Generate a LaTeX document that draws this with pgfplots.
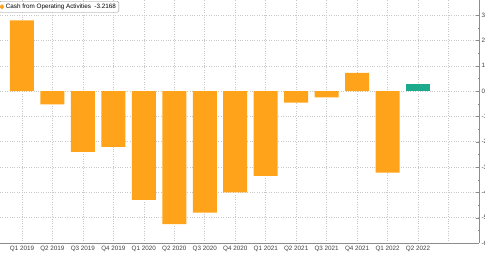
\documentclass[border=0pt]{standalone}
\usepackage{fontspec}
\setmainfont{Liberation Sans}
\usepackage{pgfplots}
\pgfplotsset{compat=1.18}
\definecolor{barorange}{HTML}{FFA31A}
\definecolor{bargreen}{HTML}{1BAA8C}
\definecolor{gridgray}{HTML}{C8C8C8}
\definecolor{axgray}{HTML}{8C8C8C}
\begin{document}
\begin{tikzpicture}
\begin{axis}[
  scale only axis,
  width=479pt, height=243pt,
  xmin=-0.72, xmax=15,
  ymin=-6, ymax=3.6,
  axis x line*=bottom,
  axis y line*=right,
  axis line style={axgray},
  xtick={0,...,14},
  xticklabels={Q1 2019,Q2 2019,Q3 2019,Q4 2019,Q1 2020,Q2 2020,Q3 2020,Q4 2020,Q1 2021,Q2 2021,Q3 2021,Q4 2021,Q1 2022,Q2 2022,},
  ytick={-6,...,3},
  minor y tick num=1,
  major tick length=3pt, minor tick length=1.5pt,
  x tick style={draw=none},
  y tick style={axgray},
  tick label style={font=\fontsize{6.3}{7}\selectfont, text=black!75},
  /pgf/number format/assume math mode=true,
  xticklabel style={yshift=3pt},
  yticklabel style={xshift=-1pt},
  grid=major,
  major grid style={gridgray, dotted, line width=0.6pt},
  ybar, bar width=24pt,
  legend style={at={(rel axis cs:0,1)}, anchor=north west, xshift=-1pt, yshift=-1pt,
    font=\fontsize{6.3}{7.5}\selectfont, draw=black!45, rounded corners=1.5pt,
    inner xsep=1pt, inner ysep=0.5pt, row sep=0pt},
  legend image code/.code={\fill[barorange] (0cm,-0.08cm) rectangle (0.13cm,0.08cm);},
  clip=false,
]
\addplot[fill=barorange, draw=none, bar shift=0pt] coordinates {
(0,2.8) (1,-0.52) (2,-2.4) (3,-2.2) (4,-4.3) (5,-5.25) (6,-4.8) (7,-4.0) (8,-3.35) (9,-0.45) (10,-0.25) (11,0.72) (12,-3.2168)};
\addlegendentry{Cash from Operating Activities\ \ -3.2168}
\addplot[fill=bargreen, draw=none, bar shift=0pt, forget plot] coordinates {(13,0.27)};
\coordinate (ll) at (rel axis cs:0,0);
\end{axis}
\pgfresetboundingbox
\path (ll) ++(0,-10pt) rectangle ++(485pt,253pt);
\end{tikzpicture}
\end{document}
